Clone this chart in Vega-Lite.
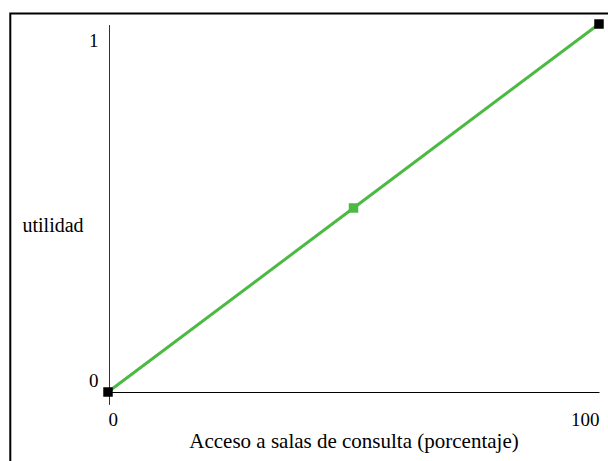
{
  "$schema": "https://vega.github.io/schema/vega-lite/v6.json",
  "width": 491,
  "height": 368,
  "autosize": "none",
  "padding": {"left": 108, "top": 24, "right": 9, "bottom": 69},
  "background": "white",
  "config": {
    "view": {"stroke": null},
    "font": "Liberation Serif",
    "axis": {"grid": false, "ticks": false, "labelColor": "black", "titleColor": "black", "titleFontWeight": "normal", "labelFontSize": 19, "titleFontSize": 20}
  },
  "datasets": {
    "curve": [
      {"acceso": 0, "utilidad": 0, "tipo": "extremo"},
      {"acceso": 50, "utilidad": 0.5, "tipo": "medio"},
      {"acceso": 100, "utilidad": 1, "tipo": "extremo"}
    ],
    "frame": [{"x": -19.9, "x2": 115, "y": 1.0285, "y2": -0.4}],
    "yline": [{"acceso": 0, "y": -0.035, "y2": 0.997}]
  },
  "layer": [
    {
      "data": {"name": "frame"},
      "mark": {"type": "rect", "fill": null, "stroke": "black", "strokeWidth": 2, "clip": false},
      "encoding": {
        "x": {"field": "x", "type": "quantitative"},
        "x2": {"field": "x2"},
        "y": {"field": "y", "type": "quantitative"},
        "y2": {"field": "y2"}
      }
    },
    {
      "data": {"name": "yline"},
      "mark": {"type": "rule", "color": "#333333", "strokeWidth": 1, "xOffset": 1.5},
      "encoding": {
        "x": {"field": "acceso", "type": "quantitative"},
        "y": {"field": "y", "type": "quantitative"},
        "y2": {"field": "y2"}
      }
    },
    {
      "data": {"name": "curve"},
      "mark": {"type": "line", "color": "#4cb944", "strokeWidth": 3},
      "encoding": {
        "x": {"field": "acceso", "type": "quantitative"},
        "y": {"field": "utilidad", "type": "quantitative"}
      }
    },
    {
      "data": {"name": "curve"},
      "mark": {"type": "square", "size": 90, "opacity": 1, "filled": true},
      "encoding": {
        "x": {
          "field": "acceso", "type": "quantitative",
          "scale": {"domain": [0, 100], "nice": false, "zero": false},
          "axis": {
            "values": [0, 100],
            "format": "d",
            "title": "Acceso a salas de consulta (porcentaje)",
            "labelFont": "Liberation Serif", "titleFont": "Liberation Serif",
            "titleFontSize": 21,
            "domain": true, "domainColor": "black", "domainWidth": 1.2,
            "labelPadding": 18,
            "labelAlign": {"condition": {"test": "datum.value == 0", "value": "left"}, "value": "right"},
            "labelFlush": false,
            "titleY": 55, "titleBaseline": "alphabetic"
          }
        },
        "y": {
          "field": "utilidad", "type": "quantitative",
          "scale": {"domain": [0, 1], "nice": false, "zero": false},
          "axis": {
            "values": [0, 1],
            "format": "d",
            "title": "utilidad",
            "labelFont": "Liberation Serif", "titleFont": "Liberation Serif",
            "domain": false,
            "labelPadding": 10,
            "labelBaseline": "middle",
            "labelFlush": false,
            "labelOffset": {"condition": {"test": "datum.value == 1", "value": 16}, "value": -12},
            "titleAngle": 0, "titleAlign": "left", "titleBaseline": "middle",
            "titleX": -86, "titleY": 201
          }
        },
        "color": {
          "field": "tipo", "type": "nominal",
          "scale": {"domain": ["extremo", "medio"], "range": ["black", "#4cb944"]},
          "legend": null
        }
      }
    }
  ]
}
